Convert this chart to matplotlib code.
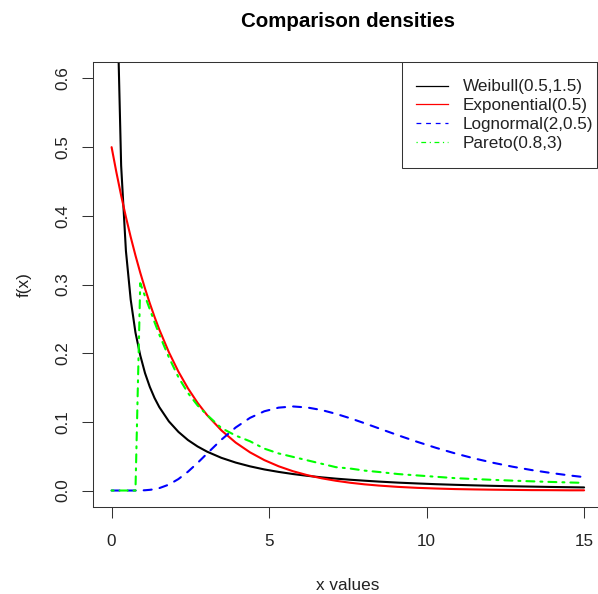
import numpy as np
import matplotlib
matplotlib.use("Agg")
import matplotlib.pyplot as plt
from matplotlib.lines import Line2D
from matplotlib.patches import Rectangle

plt.rcParams['font.family'] = ['Liberation Sans', 'DejaVu Sans']

# x positions (every point on the 0..15 grid for the steep part, sparser later)
x_vals = [0.0, 0.1515, 0.3030, 0.4545, 0.6061, 0.7576, 0.9091, 1.0606, 1.2121,
          1.3636, 1.5152, 1.8182, 2.1212, 2.4242, 2.7273, 3.0303, 3.4848, 3.9394,
          4.3939, 4.8485, 5.3030, 5.7576, 6.2121, 6.6667, 7.1212, 7.5758, 8.0303,
          8.4848, 9.0909, 9.6970, 10.303, 10.909, 11.515, 12.121, 12.727, 13.333,
          13.939, 14.545, 15.0]

# densities (weibull has no finite value at x = 0)
weibull = [np.nan, 0.763, 0.473, 0.349, 0.278, 0.230, 0.197, 0.171, 0.151,
           0.1347, 0.1214, 0.1007, 0.0854, 0.0735, 0.0642, 0.0566, 0.0476, 0.0407,
           0.0352, 0.0307, 0.0271, 0.0240, 0.0214, 0.0192, 0.0173, 0.0157, 0.0143,
           0.0130, 0.0115, 0.0103, 0.0092, 0.0083, 0.0075, 0.0068, 0.0062, 0.0057,
           0.0052, 0.0048, 0.0045]
expo = [0.5, 0.4635, 0.4296, 0.3983, 0.3692, 0.3423, 0.3173, 0.2941, 0.2727,
        0.2528, 0.2343, 0.2014, 0.1731, 0.1488, 0.1278, 0.1099, 0.0876, 0.0698,
        0.0556, 0.0443, 0.0353, 0.0281, 0.0224, 0.0178, 0.0142, 0.0113, 0.0090,
        0.0072, 0.0053, 0.0039, 0.0029, 0.0021, 0.0016, 0.0012, 0.0009, 0.0006,
        0.0005, 0.0003, 0.0003]
lognorm = [0.0, 0.0, 0.0, 0.0, 0.0, 0.0, 0.0001, 0.0004, 0.0010,
           0.0019, 0.0035, 0.0086, 0.0167, 0.0274, 0.0401, 0.0538, 0.0740, 0.0918,
           0.1058, 0.1154, 0.1207, 0.1224, 0.1209, 0.1172, 0.1117, 0.1052, 0.0980,
           0.0905, 0.0805, 0.0710, 0.0621, 0.0540, 0.0467, 0.0403, 0.0347, 0.0298,
           0.0256, 0.0219, 0.0195]
pareto = [0.0, 0.0, 0.0, 0.0, 0.0, 0.0, 0.302, 0.283, 0.264,
          0.245, 0.227, 0.194, 0.165, 0.142, 0.124, 0.110, 0.091, 0.080,
          0.0717, 0.061, 0.054, 0.049, 0.044, 0.039, 0.034, 0.032, 0.029,
          0.027, 0.024, 0.022, 0.020, 0.018, 0.0167, 0.0155, 0.0144, 0.0134,
          0.0125, 0.0117, 0.0111]

labels = ["Weibull(0.5,1.5)", "Exponential(0.5)", "Lognormal(2,0.5)", "Pareto(0.8,3)"]
colors = ["black", "#FF0000", "#0000FF", "#00FF00"]
dash_styles = [None, None, (3.85, 3.85), (0.96, 2.88, 3.85, 2.88)]

W, H = 598, 594
fig = plt.figure(figsize=(W / 100, H / 100), dpi=100)
# plot box: left 92.7px, right 603px (runs past the image edge), top 62px, bottom 507px
ax_l, ax_r, ax_t, ax_b = 92.7, 603.0, 62.0, 507.0
ax = fig.add_axes([ax_l / W, (H - ax_b) / H, (ax_r - ax_l) / W, (ax_b - ax_t) / H])

def to_axes(px, py):
    return (px - ax_l) / (ax_r - ax_l), (ax_b - py) / (ax_b - ax_t)

series = [weibull, expo, lognorm, pareto]
for ys, c, d in zip(series, colors, dash_styles):
    line, = ax.plot(x_vals, ys, color=c, lw=1.5, solid_capstyle='round',
                    dash_capstyle='round', solid_joinstyle='round')
    if d is not None:
        line.set_dashes(d)

ax.set_xlim(-0.6, 15.6)
ax.set_ylim(-0.024, 0.624)
ax.set_xticks([0, 5, 10, 15])
ax.set_yticks([0.0, 0.1, 0.2, 0.3, 0.4, 0.5, 0.6])
ax.set_yticklabels(["0.0", "0.1", "0.2", "0.3", "0.4", "0.5", "0.6"])
for s in ax.spines.values():
    s.set_linewidth(0.75)
    s.set_color("#333333")
ax.tick_params(axis='both', length=7.6, width=0.75, color="#333333",
               labelsize=12.3, labelcolor="#222222")
ax.tick_params(axis='x', pad=12)
ax.tick_params(axis='y', pad=8.5, labelrotation=90)
for t in ax.get_yticklabels():
    t.set_va('center')

ax.set_title("Comparison densities", fontsize=14.8, fontweight='bold', pad=25)
ax.set_xlabel("x values", fontsize=12.3, color="#222222")
ax.xaxis.set_label_coords(0.5, to_axes(0, 578)[1])
ax.set_ylabel("f(x)", fontsize=12.3, color="#222222")
ax.yaxis.set_label_coords(to_axes(32, 0)[0], 0.5)

# legend box (R style: square frame touching the top of the plot box)
fx0, fy0 = to_axes(402, 168)
fx1, fy1 = to_axes(597, 62)
ax.add_patch(Rectangle((fx0, fy0), fx1 - fx0, fy1 - fy0, transform=ax.transAxes,
                       facecolor='white', edgecolor='#333333', lw=0.75, zorder=4))

handles = []
for c, d in zip(colors, dash_styles):
    h = Line2D([], [], color=c, lw=0.9)
    if d is not None:
        h.set_dashes(d)
    handles.append(h)
leg = ax.legend(handles, labels, loc='upper left', bbox_to_anchor=to_axes(415.7, 79.5),
                borderaxespad=0, borderpad=0, fontsize=12.3, handlelength=1.89,
                handletextpad=0.88, labelspacing=0.22, frameon=False)
leg.set_zorder(5)
for t in leg.get_texts():
    t.set_color("#222222")

fig.savefig("out.png", dpi=100)
